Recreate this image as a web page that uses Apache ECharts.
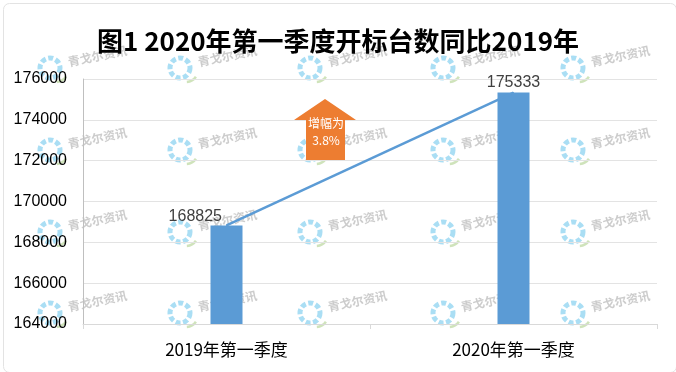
<!DOCTYPE html>
<html>
<head>
<meta charset="utf-8">
<script src="https://cdn.jsdelivr.net/npm/echarts@6/dist/echarts.min.js"></script>
<style>html,body{margin:0;padding:0;background:#fff;}#c{width:676px;height:372px;}</style>
</head>
<body>
<div id="c"></div>
<script>
var titleText = '图1 2020年第一季度开标台数同比2019年';
var categories = ['2019年第一季度', '2020年第一季度'];
var values = [168825, 175333];
var yMin = 164000, yMax = 176000, yInterval = 2000;
var arrowText = '增幅为\n3.8%';
var watermarkText = '青戈尔资讯';
var wmCols = [50, 180, 310, 443, 573];
var wmRows = [68, 150, 232, 313];

var chart = echarts.init(document.getElementById('c'), null, {renderer: 'canvas'});

var graphics = [];
graphics.push({
  type: 'rect', left: 1, top: 1, z: 0,
  shape: {width: 673, height: 369, r: 6},
  style: {fill: 'none', stroke: '#e3e3e3', lineWidth: 1}
});
wmRows.forEach(function (y) {
  wmCols.forEach(function (x) {
    graphics.push({
      type: 'group', x: x, y: y, z: 100, silent: true,
      children: [
        {type: 'circle', shape: {cx: 0, cy: 0, r: 10},
         style: {fill: 'none', stroke: 'rgba(100,195,235,0.55)', lineWidth: 5, lineDash: [5, 2.5]}},
        {type: 'arc', shape: {cx: 6, cy: 2, r: 12, startAngle: 0.6, endAngle: 1.5},
         style: {fill: 'none', stroke: 'rgba(160,200,120,0.5)', lineWidth: 2.5}},
        {type: 'text', x: 18, y: -6, rotation: 0.2,
         style: {text: watermarkText, fill: 'rgba(170,170,170,0.6)', font: 'bold 12px "Noto Sans CJK SC"', textVerticalAlign: 'middle'}}
      ]
    });
  });
});
// orange up arrow annotation
graphics.push({
  type: 'polygon', z: 50,
  shape: {points: [[325, 99], [356, 120], [345, 120], [345, 160], [306, 160], [306, 120], [294, 120]]},
  style: {fill: '#ed7d31'}
});
graphics.push({
  type: 'text', x: 326, y: 132, z: 51,
  style: {text: arrowText, fill: '#fff', font: '12px "Noto Sans CJK SC"', textAlign: 'center', textVerticalAlign: 'middle', lineHeight: 17}
});

chart.setOption({
  backgroundColor: '#fff',
  animation: false,
  title: {
    text: titleText, left: 'center', top: 23,
    textStyle: {fontFamily: 'Noto Sans CJK SC', fontWeight: 'bold', fontSize: 26, color: '#000'}
  },
  grid: {left: 83, right: 19, top: 79, bottom: 48},
  xAxis: {
    type: 'category', data: categories,
    axisLine: {lineStyle: {color: '#d9d9d9'}},
    axisTick: {show: true, alignWithLabel: false, length: 5, lineStyle: {color: '#d9d9d9'}},
    axisLabel: {fontFamily: 'Noto Sans CJK SC', fontSize: 17, color: '#000', margin: 17}
  },
  yAxis: {
    type: 'value', min: yMin, max: yMax, interval: yInterval,
    axisLine: {show: true, lineStyle: {color: '#bfbfbf'}},
    axisTick: {show: false},
    splitLine: {lineStyle: {color: '#e3e3e3'}},
    axisLabel: {fontFamily: 'Liberation Sans', fontSize: 16, color: '#000', margin: 16,
      formatter: function (v) { return String(v); }}
  },
  series: [
    {
      type: 'bar', data: values, barWidth: 32,
      itemStyle: {color: '#5b9bd5'}, z: 2
    },
    {
      type: 'line', z: 3,
      data: values.map(function (v, i) {
        return {
          value: v,
          label: i === 0 ? {position: 'left', distance: 4, offset: [0, -9]} : {position: 'top', distance: 2}
        };
      }),
      symbol: 'circle', symbolSize: 1, showSymbol: true,
      lineStyle: {color: '#5b9bd5', width: 2.5},
      itemStyle: {color: '#5b9bd5'},
      label: {show: true, fontFamily: 'Liberation Sans', fontSize: 16, color: '#404040'}
    }
  ],
  graphic: graphics
});
</script>
</body>
</html>
